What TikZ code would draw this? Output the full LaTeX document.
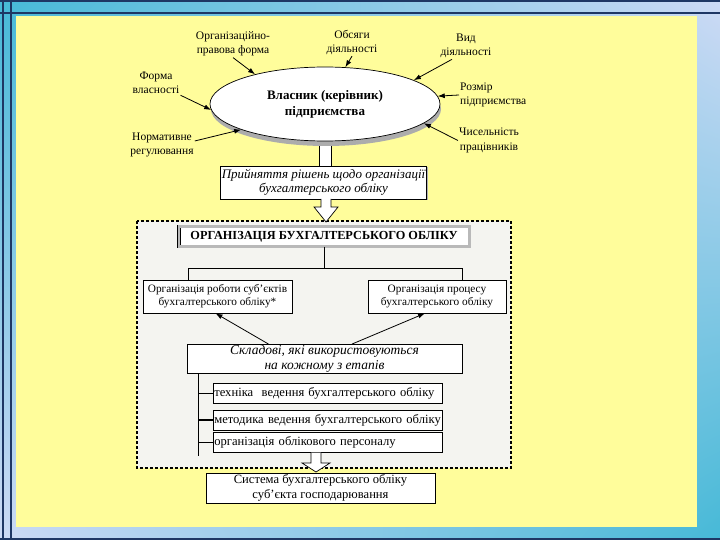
\documentclass[tikz,border=0pt]{standalone}
\usepackage{fontspec}
\setmainfont{Liberation Serif}
\usetikzlibrary{shapes.geometric,arrows.meta,shadows,calc,shadings}
\definecolor{panel}{RGB}{255,253,155}
\definecolor{navy}{RGB}{30,55,100}
\definecolor{cyanf}{RGB}{70,185,215}
\definecolor{lavf}{RGB}{205,218,245}
\definecolor{zone}{RGB}{244,244,240}
\tikzset{
  lbl/.style={align=center,inner sep=1pt,font=\fontsize{11.5}{14.5}\selectfont},
  arr/.style={-{Latex[length=7pt,width=5pt]},line width=0.8pt},
  box/.style={draw,fill=white,line width=0.6pt,inner sep=1pt,align=center},
  blockarr/.style={draw,fill=white,line width=0.7pt,line join=miter},
  zoneline/.style={draw,dash pattern=on 3pt off 2pt,line width=1.2pt}
}
\begin{document}
\begin{tikzpicture}[x=1pt,y=-1pt]
\useasboundingbox (0,0) rectangle (720,540);
% frame
\shade[upper left=cyanf,upper right=lavf,lower left=lavf,lower right=cyanf] (0,0) rectangle (720,540);
\draw[navy,line width=2pt] (2.5,0) -- (2.5,540) (11,0) -- (11,540)
  (0,1.5) -- (720,1.5) (0,13.5) -- (720,13.5) (0,539) -- (720,539);
\fill[panel] (16,16) rectangle (697,527);

% upper block arrow shaft (behind the ellipse)
\draw[blockarr] (319,128) rectangle (331,166);

% central ellipse
\node[ellipse,draw,fill=white,line width=0.7pt,minimum width=230pt,minimum height=74pt,inner sep=0pt,
  drop shadow={shadow xshift=1pt,shadow yshift=-5pt,fill=gray!65,opacity=1},
  align=center,font=\bfseries\fontsize{13}{16}\selectfont] (own) at (325,104) {Власник (керівник)\\підприємства};

% labels
\node[lbl] (orgf) at (233,44) {Організаційно-\\правова форма};
\node[lbl] (obs) at (352,42.5) {Обсяги\\діяльності};
\node[lbl] (vid) at (466,46) {Вид\\діяльності};
\node[lbl] (forma) at (156,83) {Форма\\власності};
\node[lbl,align=left,anchor=west] (rozm) at (459,95) {Розмір\\підприємства};
\node[lbl] (chis) at (489,140.5) {Чисельність\\працівників};
\node[lbl] (norm) at (162,145) {Нормативне\\регулювання};

\draw[arr] (orgf.south) -- (own.157);
\draw[arr] (obs.south) -- (own.61);
\draw[arr] ([xshift=-14pt]vid.south) -- (own.15);
\draw[arr] (rozm.west) -- (own.4);
\draw[arr] (chis.west) -- (own.-11);
\draw[arr] (forma.south east) -- (own.183);
\draw[arr] ([yshift=4pt]norm.east) -- (own.197);

% decision box
\node[box,minimum width=203pt,minimum height=33pt,
  drop shadow={shadow xshift=1.5pt,shadow yshift=-1.5pt,fill=gray!60,opacity=1},
  font=\itshape\fontsize{13}{14}\selectfont] (dec) at (323.5,182.5) {Прийняття рішень щодо організації\\бухгалтерського обліку};

% dashed zone
\draw[zoneline,fill=zone] (137,221) rectangle (511,468);

% block arrow into zone
\draw[blockarr] (321,199) -- (321,207) -- (314,207) -- (326,222) -- (338,207) -- (331,207) -- (331,199);

% organisation box
\node[draw,line width=0.5pt,double=gray!55,double distance=2.5pt,fill=white,minimum width=290.5pt,minimum height=19.7pt,
  inner sep=0pt,font=\bfseries\fontsize{12.3}{14}\selectfont] (org) at (324,236.5) {ОРГАНІЗАЦІЯ БУХГАЛТЕРСЬКОГО ОБЛІКУ};

\node[box,minimum width=149pt,minimum height=33pt,font=\fontsize{11.3}{13}\selectfont] (lb) at (217.5,296.5) {Організація роботи суб’єктів\\бухгалтерського обліку*};
\node[box,minimum width=138pt,minimum height=33pt,font=\fontsize{11.3}{13}\selectfont] (rb) at (437,296.5) {Організація процесу\\бухгалтерського обліку};

\coordinate (tl) at (188,268);
\coordinate (tr) at (462,268);
\draw[line width=0.6pt] (org.south) -- (org.south |- tl);
\draw[line width=0.6pt] (tl |- lb.north) -- (tl) -- (tr) -- (tr |- rb.north);

% components box
\node[box,minimum width=275pt,minimum height=28pt,font=\itshape\fontsize{13.5}{15}\selectfont] (skl) at (324.5,359) {Складові, які використовуються\\на кожному з етапів};

\draw[arr] ([xshift=-56pt]skl.north) -- ([xshift=-2pt]lb.south);
\draw[arr] ([xshift=27.5pt]skl.north) -- ([xshift=-12pt]rb.south);

% sub boxes
\tikzset{sub/.style={box,anchor=west,text width=227pt,align=left,minimum height=20pt,inner xsep=1pt,inner ysep=0pt,font=\fontsize{12.6}{14}\selectfont}}
\node[sub] (b1) at (213,393) {техніка\ \ ведення бухгалтерського обліку};
\node[sub] (b2) at (213,420) {методика ведення бухгалтерського обліку};
\node[sub] (b3) at (213,442.5) {організація облікового персоналу};

\coordinate (vt) at (198,373);
\coordinate (vb) at (198,456);
\draw[line width=0.6pt] (vt) -- (vb);
\draw[line width=0.6pt] (b1.west -| vt) -- (b1.west);
\draw[line width=1.1pt] (b2.west -| vt) -- (b2.west);
\draw[line width=0.6pt] (b3.west -| vt) -- (b3.west);

% bottom block arrow
\draw[blockarr] (311,452.5) -- (311,463) -- (302,463) -- (316,472) -- (330,463) -- (321,463) -- (321,452.5);

% system box
\node[box,minimum width=229pt,minimum height=30pt,font=\fontsize{12.6}{14.5}\selectfont] (sys) at (320.5,488) {Система бухгалтерського обліку\\суб’єкта господарювання};
\end{tikzpicture}
\end{document}
